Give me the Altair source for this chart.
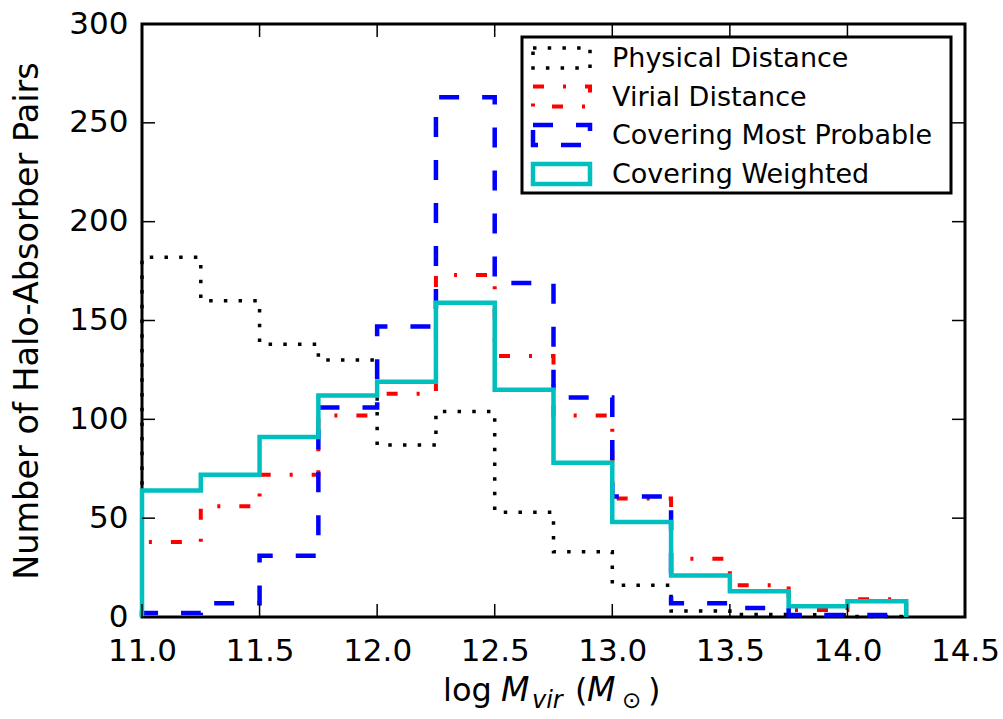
import altair as alt
import pandas as pd

# ---------------- data ----------------
edges = [11.0, 11.25, 11.5, 11.75, 12.0, 12.25, 12.5, 12.75, 13.0, 13.25, 13.5, 13.75, 14.0, 14.25]
series_names = ["Physical Distance", "Virial Distance", "Covering Most Probable", "Covering Weighted"]
physical = [182, 160, 138, 130, 87, 104, 53, 33, 16, 3, 1.3, 1.2, 0.3]
virial = [38, 56, 72, 102, 113, 173, 132, 102, 60, 29.5, 16, 3.5, 9]
most_probable = [2, 7, 31, 106, 147, 263, 169, 111, 61, 7, 4.5, 1, 1]
weighted = [64, 72, 91, 112, 119, 159, 115, 78, 48, 21, 13, 5.5, 8]
x_ticks = [11.0, 11.5, 12.0, 12.5, 13.0, 13.5, 14.0, 14.5]
y_ticks = [0, 50, 100, 150, 200, 250, 300]

colors = ["#000000", "#ff0000", "#0000ff", "#00bfbf"]
dashes = [[3.5, 11.2], [11, 19, 3, 19], [20, 23], [1, 0]]
widths = [3.5, 4, 4.5, 4.5]

W, H = 823, 593
FONT = "DejaVu Sans"

xs = alt.Scale(domain=[11.0, 14.5], nice=False, zero=False)
ys = alt.Scale(domain=[0, 300], nice=False, zero=False)


def step_frame(values):
    rows = [{"x": edges[0], "y": 0.0, "o": 0}]
    for i, v in enumerate(values):
        rows.append({"x": edges[i], "y": float(v), "o": i + 1})
    rows.append({"x": edges[-1], "y": 0.0, "o": len(values) + 1})
    return pd.DataFrame(rows)


all_values = [physical, virial, most_probable, weighted]
layers = []
for k, vals in enumerate(all_values):
    mark_kw = dict(interpolate="step-after", color=colors[k], strokeWidth=widths[k], strokeCap="butt")
    if k < 3:
        mark_kw["strokeDash"] = dashes[k]
    line = alt.Chart(step_frame(vals)).mark_line(**mark_kw).encode(
        x=alt.X("x:Q", scale=xs,
                axis=alt.Axis(values=x_ticks, format=".1f", title=None, ticks=False, domain=False,
                              grid=False, labelFontSize=31, labelPadding=19, labelFont=FONT,
                              labelColor="black", labelFlush=False)),
        y=alt.Y("y:Q", scale=ys,
                axis=alt.Axis(values=y_ticks, title="Number of Halo-Absorber Pairs", ticks=False,
                              domain=False, grid=False, labelFontSize=31, labelPadding=14,
                              labelFont=FONT, labelColor="black", titleFontSize=33.5,
                              titleFont=FONT, titleFontWeight="normal", titleColor="black",
                              titlePadding=24, labelFlush=False)),
        order="o:Q",
    )
    layers.append(line)

# inward ticks
xt = pd.DataFrame({"x": x_ticks})
yt = pd.DataFrame({"y": y_ticks})
tick_layers = [
    alt.Chart(xt).mark_rule(color="black", strokeWidth=1.5).encode(
        x=alt.X("x:Q", scale=xs), y=alt.value(H), y2=alt.value(H - 13)),
    alt.Chart(xt).mark_rule(color="black", strokeWidth=1.5).encode(
        x=alt.X("x:Q", scale=xs), y=alt.value(0), y2=alt.value(13)),
    alt.Chart(yt).mark_rule(color="black", strokeWidth=1.5).encode(
        y=alt.Y("y:Q", scale=ys), x=alt.value(0), x2=alt.value(13)),
    alt.Chart(yt).mark_rule(color="black", strokeWidth=1.5).encode(
        y=alt.Y("y:Q", scale=ys), x=alt.value(W), x2=alt.value(W - 13)),
]

# legend
dummy = pd.DataFrame({"a": [0]})
legend_layers = [
    alt.Chart(dummy).mark_rect(fill="white", stroke="black", strokeWidth=3).encode(
        x=alt.value(380), x2=alt.value(809), y=alt.value(13), y2=alt.value(169))
]
row_y = [34, 72.5, 111, 150]
for k, name in enumerate(series_names):
    rk = dict(fillOpacity=0, stroke=colors[k], strokeWidth=widths[k], strokeCap="butt")
    if k < 3:
        rk["strokeDash"] = dashes[k]
    legend_layers.append(
        alt.Chart(dummy).mark_rect(**rk).encode(
            x=alt.value(391), x2=alt.value(448), y=alt.value(row_y[k] - 10), y2=alt.value(row_y[k] + 10)))
    legend_layers.append(
        alt.Chart(pd.DataFrame({"t": [name]})).mark_text(
            align="left", baseline="middle", font=FONT, fontSize=27, color="black").encode(
            x=alt.value(470), y=alt.value(row_y[k] + 1), text="t:N"))

# x-axis title: log M_vir (M_sun)
title_parts = [
    ("log", 301, 677, 32, "normal"),
    ("M", 359, 677, 33, "italic"),
    ("vir", 390, 684, 24, "italic"),
    ("(", 433, 677, 32, "normal"),
    ("M", 445, 677, 33, "italic"),
    ("\u2299", 480, 684, 23, "normal"),
    (")", 506, 677, 32, "normal"),
]
title_layers = []
for txt, px, py, fs, st in title_parts:
    title_layers.append(
        alt.Chart(pd.DataFrame({"t": [txt]})).mark_text(
            align="left", baseline="alphabetic", font=FONT, fontSize=fs, fontStyle=st,
            color="black").encode(x=alt.value(px), y=alt.value(py), text="t:N"))

chart = alt.layer(*layers, *tick_layers, *legend_layers, *title_layers).properties(
    width=W, height=H,
    autosize=alt.AutoSizeParams(type="none"),
    padding={"left": 142, "top": 24, "right": 38, "bottom": 102},
).configure(background="white").configure_view(stroke="black", strokeWidth=3)

chart.save("out.html", embed_options={"renderer": "svg", "actions": False})
